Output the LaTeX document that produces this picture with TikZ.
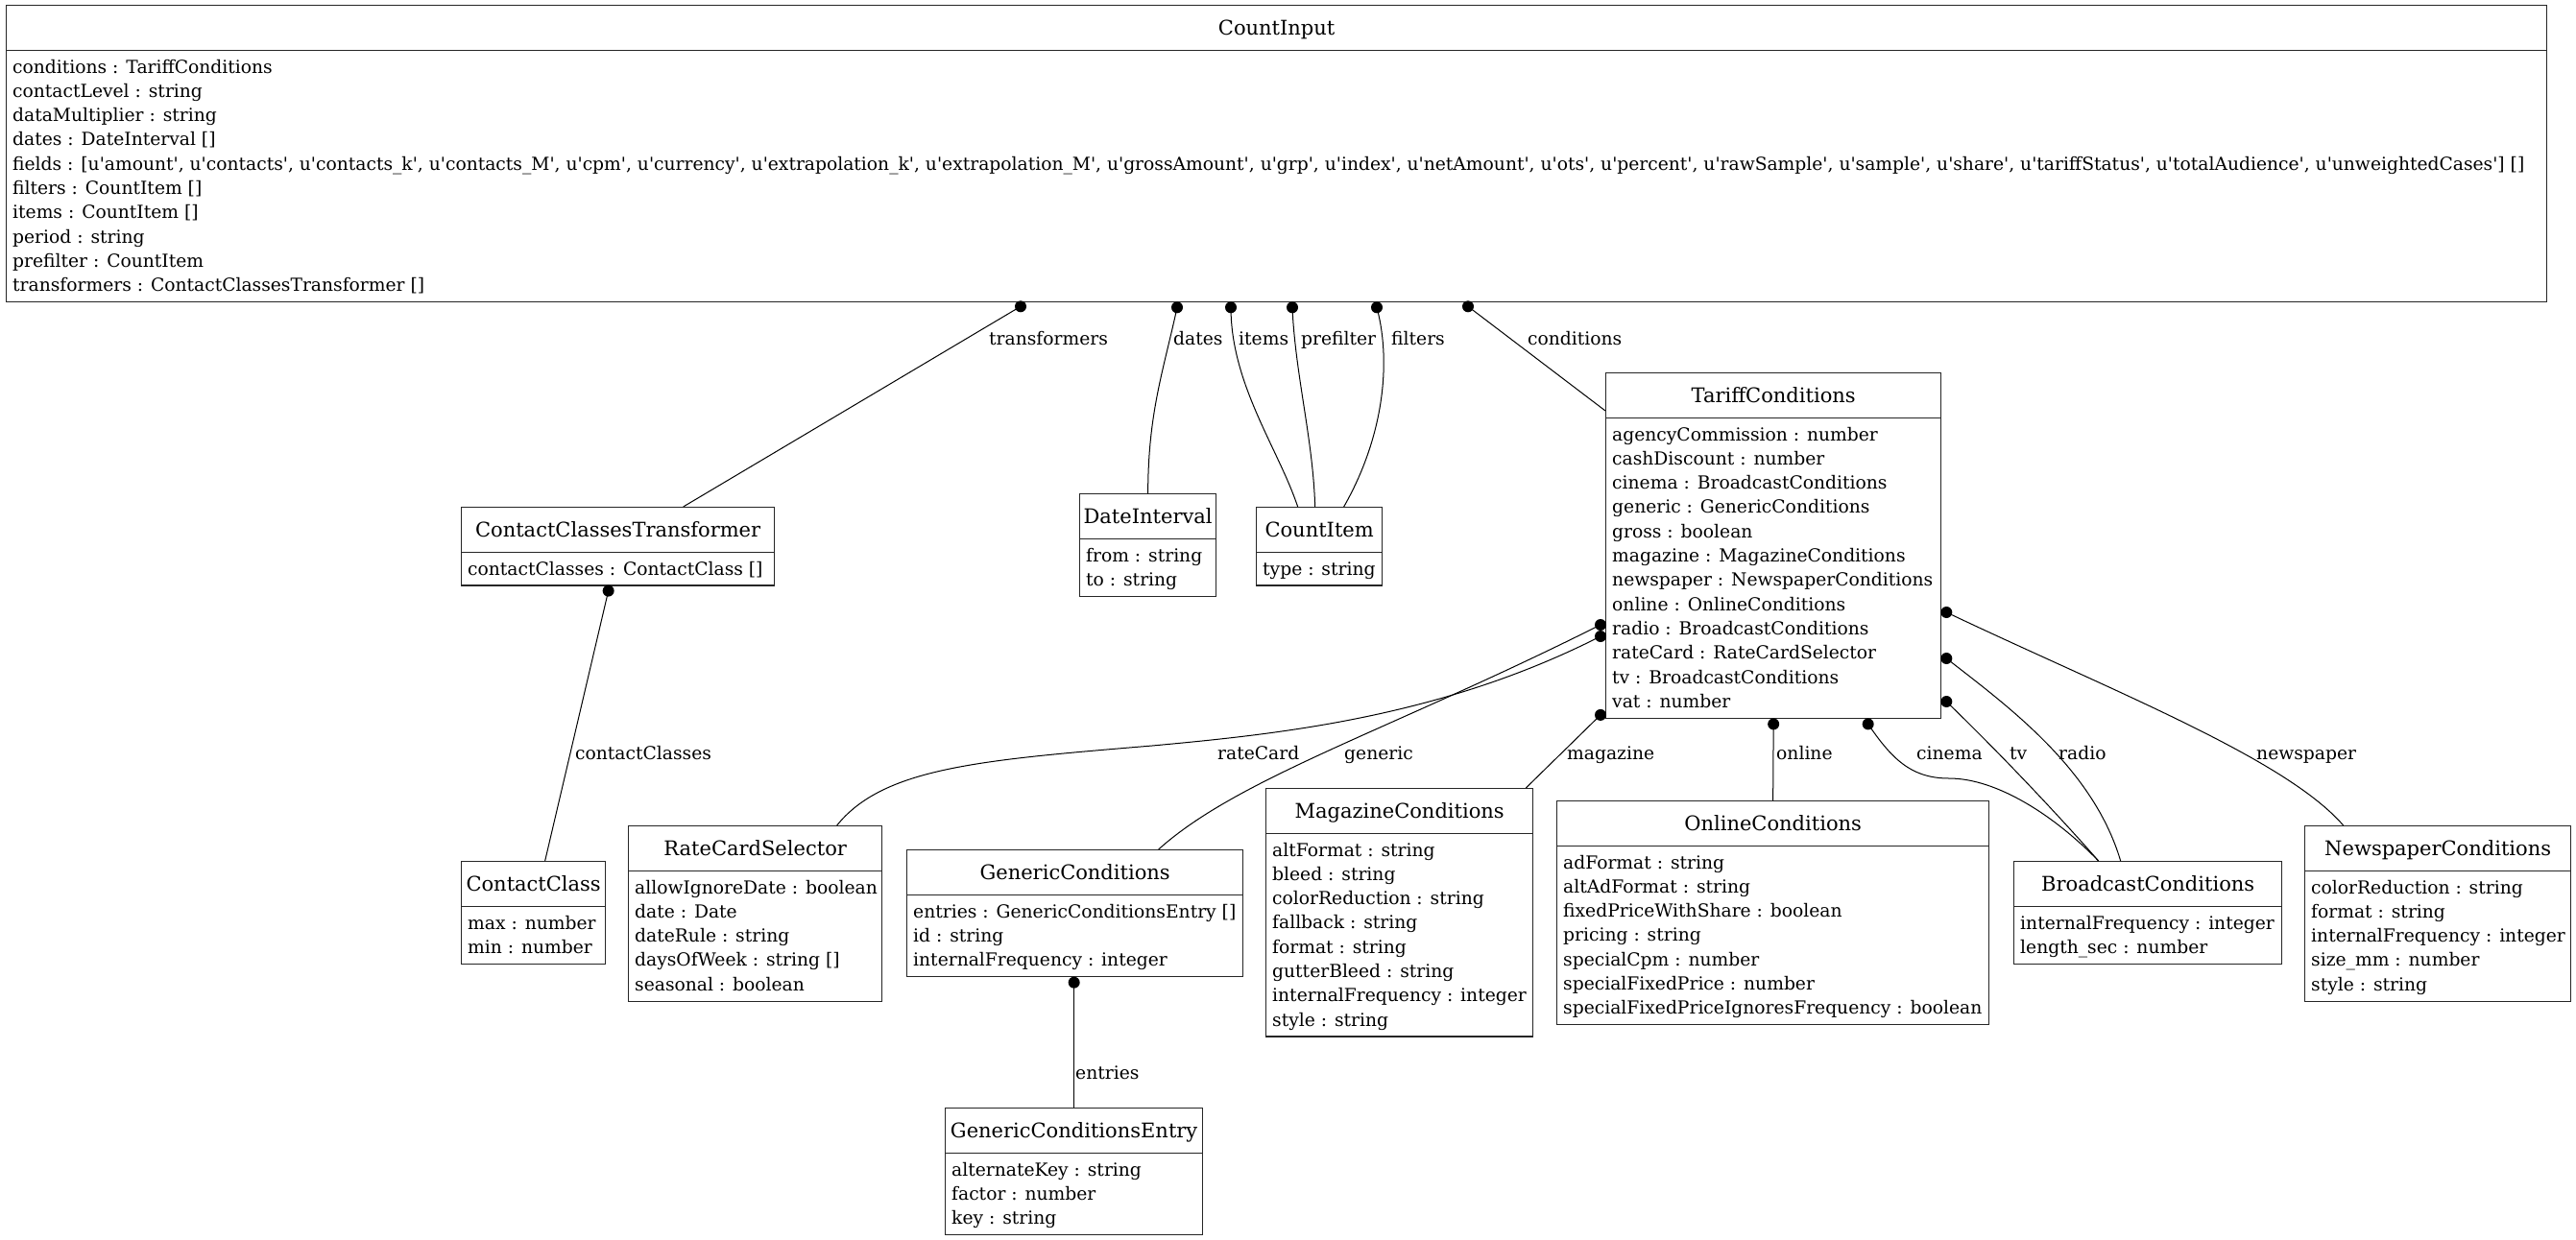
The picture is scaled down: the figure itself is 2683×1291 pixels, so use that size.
\documentclass[tikz,border=0pt]{standalone}
\usepackage{fontspec}
\newfontfamily\umlfont{DejaVu Serif}
\usetikzlibrary{calc}
\tikzset{
  clsbox/.style={draw=black!85, line width=1.3pt, anchor=north west, inner sep=0pt, fill=white},
  clsline/.style={draw=black!85, line width=1.3pt},
  clstitle/.style={anchor=base, inner sep=0pt, font=\umlfont\fontsize{21}{25}\selectfont},
  attr/.style={anchor=base west, inner sep=0pt, font=\umlfont\fontsize{18.7}{25.3}\selectfont},
  elabel/.style={anchor=base west, inner sep=0pt, font=\umlfont\fontsize{18.7}{25.3}\selectfont},
  conn/.style={line width=1pt, black},
}
\newcommand\umlcls[7]{%
  \pgfmathsetmacro\clsw{#3-#2}%
  \pgfmathsetmacro\clsh{56+#5*25.3}%
  \node[clsbox, minimum width=\clsw pt, minimum height=\clsh pt] (#1) at (#2,#4) {};
  \node[clstitle] (#1-title) at ($(#1.north)+(0,31)$) {#6};
  \draw[clsline] ($(#1.north west)+(0,47.5)$) -- ($(#1.north east)+(0,47.5)$);
  \foreach \t [count=\i] in {#7} {%
    \pgfmathsetmacro\rowy{71+(\i-1)*25.3}%
    \node[attr] (#1-a\i) at ($(#1.north west)+(7,\rowy)$) {\t};}
}
\newcommand\dotat[1]{\fill[black] (#1) circle[radius=6];}
\begin{document}
\begin{tikzpicture}[x=1pt,y=-1pt]
\fill[white] (0,0) rectangle (2683,1291);
\useasboundingbox (0,0) rectangle (2683,1291);

% classes
\umlcls{ci}{6}{2652}{5}{10}{CountInput}{conditions : TariffConditions, contactLevel : string, dataMultiplier : string, dates : DateInterval [], {fields : [u'amount', u'contacts', u'contacts\_k', u'contacts\_M', u'cpm', u'currency', u'extrapolation\_k', u'extrapolation\_M', u'grossAmount', u'grp', u'index', u'netAmount', u'ots', u'percent', u'rawSample', u'sample', u'share', u'tariffStatus', u'totalAudience', u'unweightedCases'] []}, filters : CountItem [], items : CountItem [], period : string, prefilter : CountItem, transformers : ContactClassesTransformer []}
\umlcls{cct}{480}{806}{528}{1}{ContactClassesTransformer}{contactClasses : ContactClass []}
\umlcls{di}{1124}{1266}{514}{2}{DateInterval}{from : string, to : string}
\umlcls{cit}{1308}{1439}{528}{1}{CountItem}{type : string}
\umlcls{tc}{1672}{2021}{388}{12}{TariffConditions}{agencyCommission : number, cashDiscount : number, cinema : BroadcastConditions, generic : GenericConditions, gross : boolean, magazine : MagazineConditions, newspaper : NewspaperConditions, online : OnlineConditions, radio : BroadcastConditions, rateCard : RateCardSelector, tv : BroadcastConditions, vat : number}
\umlcls{cc}{480}{630}{897}{2}{ContactClass}{max : number, min : number}
\umlcls{rcs}{654}{918}{860}{5}{RateCardSelector}{allowIgnoreDate : boolean, date : Date, dateRule : string, daysOfWeek : string [], seasonal : boolean}
\umlcls{gc}{944}{1294}{885}{3}{GenericConditions}{entries : GenericConditionsEntry [], id : string, internalFrequency : integer}
\umlcls{gce}{984}{1252}{1154}{3}{GenericConditionsEntry}{alternateKey : string, factor : number, key : string}
\umlcls{mc}{1318}{1596}{821}{8}{MagazineConditions}{altFormat : string, bleed : string, colorReduction : string, fallback : string, format : string, gutterBleed : string, internalFrequency : integer, style : string}
\umlcls{oc}{1621}{2071}{834}{7}{OnlineConditions}{adFormat : string, altAdFormat : string, fixedPriceWithShare : boolean, pricing : string, specialCpm : number, specialFixedPrice : number, specialFixedPriceIgnoresFrequency : boolean}
\umlcls{bc}{2097}{2376}{897}{2}{BroadcastConditions}{internalFrequency : integer, length\_sec : number}
\umlcls{nc}{2400}{2677}{860}{5}{NewspaperConditions}{colorReduction : string, format : string, internalFrequency : integer, size\_mm : number, style : string}

% connector end points (dots at the owning class)
\coordinate (d-tr) at ($(ci.south west)+(1057,4)$);
\coordinate (d-da) at ($(ci.south west)+(1220,5)$);
\coordinate (d-it) at ($(ci.south west)+(1276,5)$);
\coordinate (d-pf) at ($(ci.south west)+(1340,5)$);
\coordinate (d-fi) at ($(ci.south west)+(1428,5)$);
\coordinate (d-co) at ($(ci.south west)+(1523,4)$);
\coordinate (d-cc) at ($(cct.south)+(-10,5)$);
\coordinate (d-ge) at ($(tc.north west)+(-5,263)$);
\coordinate (d-rc) at ($(tc.north west)+(-5,275)$);
\coordinate (d-ma) at ($(tc.south west)+(-5,-4)$);
\coordinate (d-on) at ($(tc.south)+(0,5.5)$);
\coordinate (d-ci) at ($(tc.south)+(98.5,5.5)$);
\coordinate (d-np) at ($(tc.north east)+(5,250)$);
\coordinate (d-ra) at ($(tc.north east)+(5,298)$);
\coordinate (d-tv) at ($(tc.north east)+(5,343)$);
\coordinate (d-en) at ($(gc.south)+(-1,5.5)$);

% target points
\coordinate (t-tr) at ($(cct.north)+(68,0)$);
\coordinate (t-it) at ($(cit.north)+(-22.5,0)$);
\coordinate (t-pf) at ($(cit.north)+(-4.5,0)$);
\coordinate (t-fi) at ($(cit.north)+(25.5,0)$);
\coordinate (t-co) at ($(tc.north west)+(0,40)$);
\coordinate (t-cc) at ($(cc.north)+(12,0)$);
\coordinate (t-rc) at ($(rcs.north)+(85,0)$);
\coordinate (t-ge) at ($(gc.north)+(87,0)$);
\coordinate (t-ma) at ($(mc.north east)+(-8,0)$);
\coordinate (t-bc) at ($(bc.north)+(-51.5,0)$);
\coordinate (t-ra) at ($(bc.north)+(-28.5,0)$);
\coordinate (t-np) at ($(nc.north)+(-98.5,0)$);

% connectors
\draw[conn] (d-tr) -- (t-tr);
\draw[conn] (d-da) .. controls +(-14,65) and +(0,-84) .. (di.north);
\draw[conn] (d-it) .. controls +(0,80) and +(-20,-60) .. (t-it);
\draw[conn] (d-pf) .. controls +(3,70) and +(-2,-70) .. (t-pf);
\draw[conn] (d-fi) .. controls +(16,60) and +(40,-70) .. (t-fi);
\draw[conn] (d-co) -- (t-co);
\draw[conn] (d-cc) -- (t-cc);
\draw[conn] (d-rc) .. controls (1500,748) and (1330,765) .. (1200,777) .. controls (1020,792) and (920,800) .. (t-rc);
\draw[conn] (d-ge) .. controls (1450,760) and (1290,810) .. (t-ge);
\draw[conn] (d-ma) -- (t-ma);
\draw[conn] (d-on) -- (oc.north);
\draw[conn] (d-ci) .. controls (1970,790) and (1990,811) .. (2030,811) .. controls (2080,811) and (2140,850) .. (t-bc);
\draw[conn] (d-tv) .. controls (2080,782) and (2140,845) .. (t-bc);
\draw[conn] (d-ra) .. controls (2090,735) and (2180,800) .. (t-ra);
\draw[conn] (d-np) .. controls (2200,720) and (2380,790) .. (t-np);
\draw[conn] (d-en) -- (gce.north);

\foreach \p in {d-tr,d-da,d-it,d-pf,d-fi,d-co,d-cc,d-ge,d-rc,d-ma,d-on,d-ci,d-np,d-ra,d-tv,d-en} {\dotat{\p}}

% labels
\node[elabel] (l-tr) at (1030,359) {transformers};
\node[elabel] (l-da) at (1222,359) {dates};
\node[elabel] (l-it) at (1290,359) {items};
\node[elabel] (l-pf) at (1355,359) {prefilter};
\node[elabel] (l-fi) at (1449,359) {filters};
\node[elabel] (l-co) at (1591,359) {conditions};
\node[elabel] (l-cc) at (599,791) {contactClasses};
\node[elabel] (l-rc) at (1268,791) {rateCard};
\node[elabel] (l-ge) at (1400,791) {generic};
\node[elabel] (l-ma) at (1632,791) {magazine};
\node[elabel] (l-on) at (1850,791) {online};
\node[elabel] (l-ci) at (1996,791) {cinema};
\node[elabel] (l-tv) at (2093,791) {tv};
\node[elabel] (l-ra) at (2144,791) {radio};
\node[elabel] (l-np) at (2350,791) {newspaper};
\node[elabel] (l-en) at (1120,1124) {entries};
\end{tikzpicture}
\end{document}
